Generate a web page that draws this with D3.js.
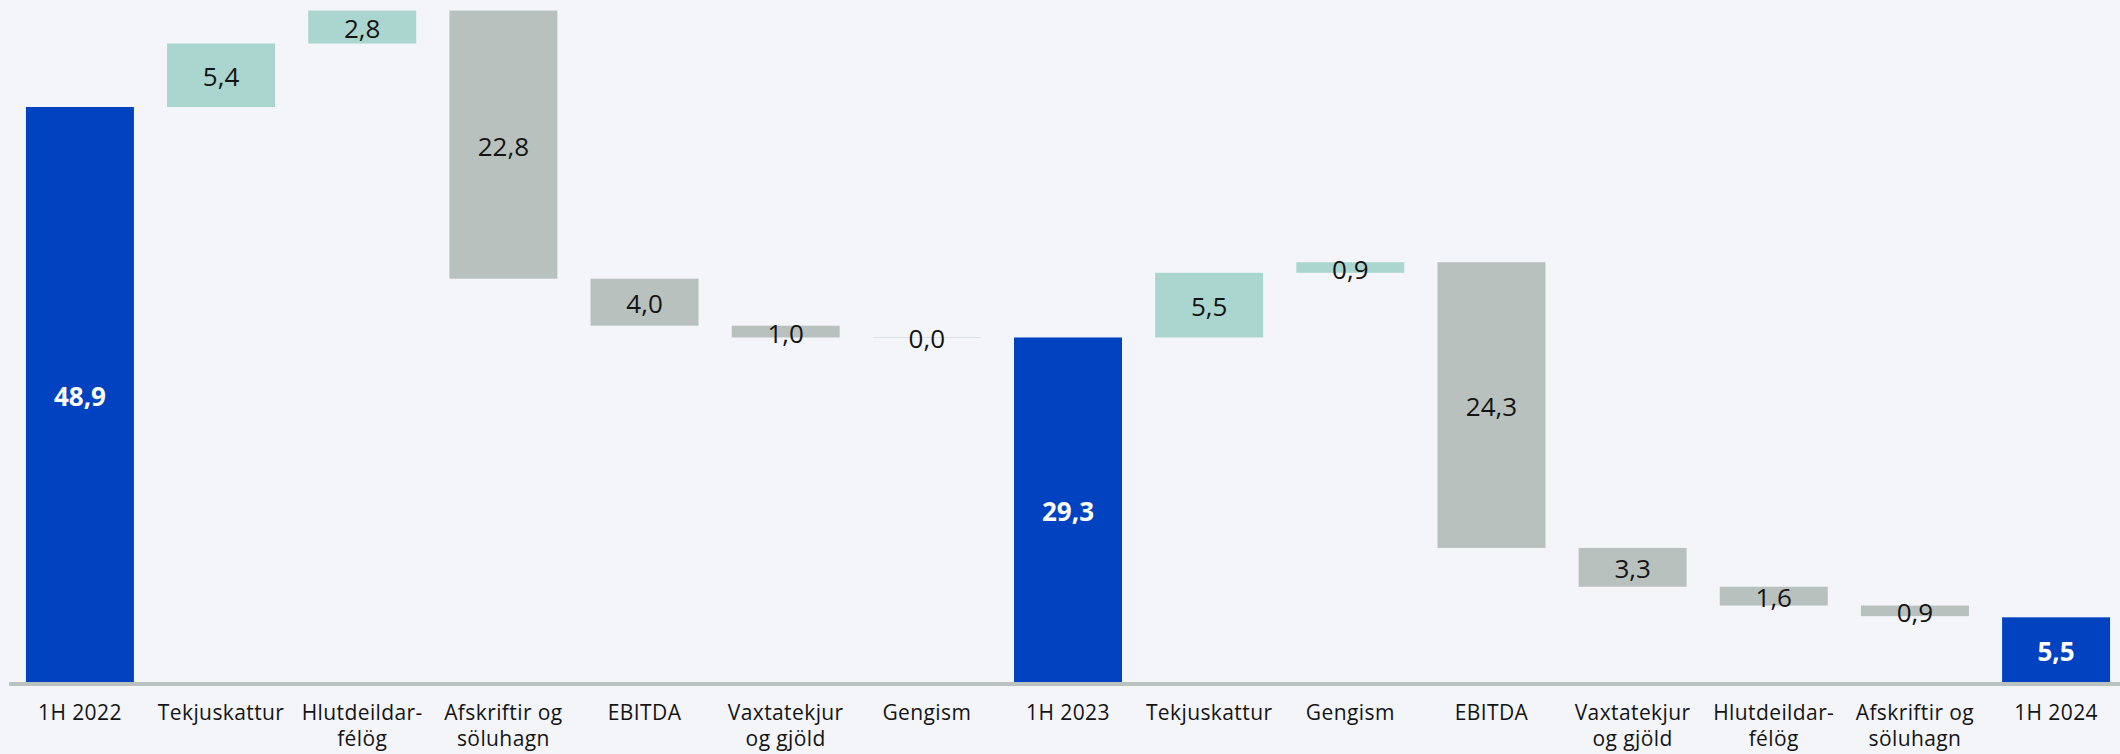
<!DOCTYPE html>
<html>
<head>
<meta charset="utf-8">
<script src="https://cdn.jsdelivr.net/npm/d3@7"></script>
<style>
  html, body { margin: 0; padding: 0; background: #F3F5F9; }
  svg { display: block; }
</style>
</head>
<body>
<div id="Waterfall"></div>
<script>

// categories (multi-line labels split with "|")
var categories = ["1H 2022", "Tekjuskattur", "Hlutdeildar-|félög", "Afskriftir og|söluhagn",
                  "EBITDA", "Vaxtatekjur|og gjöld", "Gengism", "1H 2023", "Tekjuskattur",
                  "Gengism", "EBITDA", "Vaxtatekjur|og gjöld", "Hlutdeildar-|félög",
                  "Afskriftir og|söluhagn", "1H 2024"];

// step values: positive = increase, negative = decrease
var values = [48.9, 5.4, 2.8, -22.8, -4.0, -1.0, 0.0, 29.3, 5.5, 0.9, -24.3, -3.3, -1.6, -0.9, 5.5];

// which columns are totals
var totals = [true, false, false, false, false, false, false, true, false, false, false, false, false, false, true];

var width = 2120,
    height = 754;

var colors = {total: "#0042BF", up: "#AAD6CF", down: "#B9C1BF"};

// build waterfall rows
var data = [];
var running = 0;
categories.forEach(function(c, i) {
  var v = values[i];
  var start, end;
  if (totals[i]) {
    start = 0; end = v; running = v;
  } else {
    start = running; end = running + v; running = end;
  }
  data.push({
    cat: c, key: i + "", value: v, total: totals[i],
    lo: Math.min(start, end), hi: Math.max(start, end)
  });
});

var svg = d3.select("#Waterfall")
  .append("svg")
    .attr("width", width)
    .attr("height", height);

var x = d3.scaleBand()
  .domain(data.map(function(d) { return d.key; }))
  .range([9, 2127])
  .paddingInner(0.235)
  .paddingOuter(0.12);

var y = d3.scaleLinear()
  .domain([0, 58])
  .range([682, 0]);

// bars
svg.append("g")
  .selectAll("rect")
  .data(data)
  .enter()
  .append("rect")
    .attr("x", function(d) { return x(d.key); })
    .attr("width", x.bandwidth())
    .attr("y", function(d) { return d.hi === d.lo ? y(d.hi) - 0.5 : y(d.hi); })
    .attr("height", function(d) { return d.hi === d.lo ? 1 : y(d.lo) - y(d.hi); })
    .style("fill", function(d) {
      if (d.hi === d.lo) return "#DCE0E3";
      return d.total ? colors.total : (d.value > 0 ? colors.up : colors.down);
    });

// value labels
svg.append("g")
  .selectAll("text")
  .data(data)
  .enter()
  .append("text")
    .attr("x", function(d) { return x(d.key) + x.bandwidth() / 2; })
    .attr("y", function(d) { return (y(d.hi) + y(d.lo)) / 2 + 1; })
    .attr("text-anchor", "middle")
    .attr("dominant-baseline", "central")
    .style("font-family", "'Open Sans', sans-serif")
    .style("font-size", "26px")
    .style("font-weight", function(d) { return d.total ? 700 : 400; })
    .style("fill", function(d) { return d.total ? "#FFFFFF" : "#141414"; })
    .text(function(d) { return Math.abs(d.value).toFixed(1).replace(".", ","); });

// x axis line
svg.append("line")
  .attr("x1", 9)
  .attr("x2", width)
  .attr("y1", y(0) + 2)
  .attr("y2", y(0) + 2)
  .style("stroke", "#BAC2C0")
  .style("stroke-width", 4);

// category labels
var labels = svg.append("g")
  .selectAll("text")
  .data(data)
  .enter()
  .append("text")
    .attr("x", function(d) { return x(d.key) + x.bandwidth() / 2; })
    .attr("y", 720)
    .attr("text-anchor", "middle")
    .style("font-family", "'Open Sans', sans-serif")
    .style("font-size", "21px")
    .style("letter-spacing", "0.4px")
    .style("fill", "#141414");

labels.selectAll("tspan")
  .data(function(d) { return d.cat.split("|"); })
  .enter()
  .append("tspan")
    .attr("x", function() { var p = d3.select(this.parentNode).datum(); return x(p.key) + x.bandwidth() / 2; })
    .attr("dy", function(t, i) { return i === 0 ? 0 : 26; })
    .text(function(t) { return t; });

</script>
</body>
</html>
